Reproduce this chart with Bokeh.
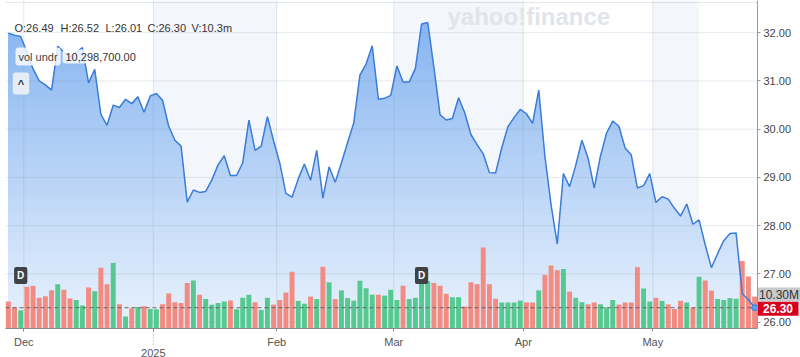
import numpy as np
from bokeh.plotting import figure
from bokeh.models import Range1d, FixedTicker, NumeralTickFormatter, Label
from bokeh.embed import file_html
from bokeh.resources import INLINE

# ---------------- data ----------------
close = [31.99, 31.95, 31.92, 31.60, 31.25, 31.00, 30.92, 30.81, 31.72, 31.60,
         31.50, 31.60, 31.69, 30.96, 31.24, 30.31, 30.08, 30.50, 30.45, 30.62,
         30.53, 30.67, 30.35, 30.69, 30.74, 30.60, 30.06, 29.77, 29.65, 28.49,
         28.74, 28.69, 28.71, 28.95, 29.26, 29.45, 29.04, 29.04, 29.30, 30.19,
         29.56, 29.65, 30.26, 29.76, 29.30, 28.67, 28.59, 28.97, 29.28, 28.94,
         29.56, 28.57, 29.22, 28.90, 29.30, 29.72, 30.13, 31.12, 31.35, 31.73,
         30.62, 30.64, 30.70, 31.31, 30.98, 30.98, 31.26, 32.18, 32.21, 31.28,
         30.30, 30.19, 30.22, 30.65, 30.34, 29.89, 29.68, 29.49, 29.10, 29.09,
         29.61, 30.05, 30.24, 30.41, 30.32, 30.12, 30.81, 29.44, 28.43, 27.62,
         29.08, 28.81, 29.25, 29.77, 29.40, 28.78, 29.44, 29.92, 30.17, 30.06,
         29.61, 29.47, 28.78, 28.83, 29.08, 28.48, 28.60, 28.55, 28.36, 28.20,
         28.45, 28.03, 28.12, 27.60, 27.13, 27.42, 27.69, 27.84, 27.85, 26.59,
         26.47, 26.30]

volume_m = [8.7, 6.8, 5.9, 13.5, 13.8, 9.9, 10.4, 12.3, 14.3, 12.5,
            9.7, 9.2, 7.4, 13.2, 12.0, 19.6, 14.3, 21.1, 7.8, 3.9,
            6.5, 6.9, 7.2, 6.3, 6.2, 7.8, 11.3, 8.5, 8.2, 14.7,
            15.5, 10.9, 9.5, 7.7, 8.2, 8.7, 9.0, 6.2, 9.9, 10.9,
            8.5, 6.0, 9.9, 7.7, 9.2, 11.6, 18.3, 8.9, 8.0, 10.3,
            9.5, 19.9, 14.9, 9.5, 12.3, 9.8, 9.0, 15.4, 13.0, 10.9,
            10.9, 10.6, 12.5, 9.2, 13.8, 9.5, 9.9, 15.3, 15.3, 14.7,
            13.8, 11.2, 10.1, 10.1, 7.1, 14.9, 14.3, 26.1, 14.3, 9.6,
            8.4, 8.4, 8.4, 9.0, 8.4, 8.4, 12.3, 17.3, 20.3, 18.8,
            19.2, 11.9, 9.9, 8.5, 7.8, 8.4, 7.8, 6.8, 9.2, 7.7,
            8.4, 8.4, 19.8, 12.9, 8.7, 9.9, 8.9, 7.8, 6.3, 8.9,
            8.4, 6.7, 16.7, 15.5, 12.2, 9.5, 9.2, 9.8, 9.6, 21.8,
            16.8, 10.3]

# g = up day, r = down day
volume_dir = ("rrgrrrrrgr" "rggrgrrgrg" "rgrggrrrrr" "grggggrggg"
              "rggrrrrggr" "grgrgggggg" "rgggrggggr" "rrggrrrrrr"
              "ggggrrgrrr" "grggrrgggr" "rrrggrgrrr" "grgrrggggrrr")

month_labels = ["Dec", "", "Feb", "Mar", "Apr", "May"]
year_label = "2025"
month_first_idx = [3, 24, 44, 63, 84, 105]
price_ticks = [26, 27, 28, 29, 30, 31, 32]
dividend_idx = [2, 67]
last_close = 26.30
last_volume_text = "10.30M"
ohlc_items = ["O:26.49", "H:26.52", "L:26.01", "C:26.30", "V:10.3m"]
vol_name = "vol undr"
vol_value = "10,298,700.00"

assert len(close) == len(volume_m) == len(volume_dir)

n = len(close)
idx = list(range(n))
FONT = "Liberation Sans"


# canvas pixel -> data helpers (layout only)
def X(cx):
    return (cx - 7.88) / 6.167


def Y(cy):
    return 32.0 - (cy - 32.2) / 48.25


def V(cy):
    return (328.0 - cy) / 3.1


PXY = 1 / 48.25   # one pixel in price units
PXV = 1 / 3.1     # one pixel in volume units

# plot-area limits in data units
ax_l, ax_r = X(5), X(757)
ay_b, ay_t = Y(328), Y(0)

p = figure(width=800, height=357, x_range=Range1d(X(0), X(800)), y_range=Range1d(Y(357), Y(0)),
           output_backend="svg", toolbar_location=None, y_axis_location="right",
           min_border_left=0, min_border_right=0, min_border_top=0, min_border_bottom=0,
           background_fill_color="white", border_fill_color="white", outline_line_color=None)
p.extra_y_ranges = {"vol": Range1d(V(357), V(0))}
p.grid.visible = False

bounds = [i - 0.5 for i in month_first_idx]

# alternating month shading
p.quad(left=[bounds[1], bounds[3], bounds[5]], right=[bounds[2], bounds[4], 112.0],
       bottom=ay_b, top=ay_t, fill_color="#f3f6fa", line_color=None)


def under_line(xs, ys, cap):
    """polygon of the area between the chart bottom and min(line, cap)"""
    px, py = [], []
    for k in range(len(xs)):
        if k > 0:
            x0, y0, x1, y1 = xs[k - 1], ys[k - 1], xs[k], ys[k]
            if (y0 - cap) * (y1 - cap) < 0:
                t = (cap - y0) / (y1 - y0)
                px.append(x0 + t * (x1 - x0))
                py.append(cap)
        px.append(xs[k])
        py.append(min(ys[k], cap))
    px += [xs[-1], xs[0]]
    py += [ay_b, ay_b]
    return px, py


# vertical gradient fill under the price line
top_rgb = np.array([134, 180, 240])
bot_rgb = np.array([233, 242, 253])
caps = np.linspace(ay_b, 32.5, 60)
for k in range(len(caps) - 1, 0, -1):
    mid = 0.5 * (caps[k] + caps[k - 1])
    t = min(max((mid - ay_b) / (32.3 - ay_b), 0.0), 1.0)
    rgb = (bot_rgb + t * (top_rgb - bot_rgb)).round().astype(int)
    col = "#%02x%02x%02x" % tuple(rgb)
    px, py = under_line(idx, close, caps[k])
    p.patch(px, py, fill_color=col, line_color=None)

# grid lines
p.segment(x0=ax_l, x1=ax_r, y0=price_ticks, y1=price_ticks, line_color="#8d97a5",
          line_alpha=0.22, line_width=1)
p.segment(x0=ax_l, x1=ax_r, y0=Y(2), y1=Y(2), line_color="#8d97a5",
          line_alpha=0.22, line_width=1)
p.segment(x0=bounds, x1=bounds, y0=ay_b, y1=ay_t, line_color="#8d97a5",
          line_alpha=0.22, line_width=1)

# volume bars
bar_colors = ["#55c98f" if d == "g" else "#f28b82" for d in volume_dir]
p.vbar(x=idx, top=volume_m, bottom=0, width=0.8, y_range_name="vol",
       fill_color=bar_colors, line_color=None)

# last price dashed line
p.segment(x0=ax_l, x1=ax_r, y0=last_close, y1=last_close, line_color="#666666",
          line_dash="4 3", line_width=1)

# price line
p.line(idx, close, line_color="#3b7dd8", line_width=1.5)
p.scatter([idx[-1]], [close[-1]], size=6, fill_color="#5b9ef0", line_color="#3b7dd8",
          line_width=1)

# axes (fixed at the plot-area edges)
ya = p.yaxis[0]
ya.fixed_location = ax_r
ya.bounds = (ay_b, ay_t)
ya.ticker = FixedTicker(ticks=price_ticks)
ya.formatter = NumeralTickFormatter(format="0.00")
ya.axis_line_color = "#9a9a9a"
ya.major_tick_line_color = "#9a9a9a"
ya.major_tick_in = 0
ya.major_tick_out = 3
ya.minor_tick_line_color = None
ya.major_label_standoff = 3
ya.major_label_text_font = FONT
ya.major_label_text_font_size = "11px"
ya.major_label_text_color = "#444444"

xa = p.xaxis[0]
xa.fixed_location = ay_b
xa.bounds = (ax_l, ax_r)
xa.ticker = FixedTicker(ticks=bounds)
xa.major_label_overrides = {b: lab for b, lab in zip(bounds, month_labels)}
xa.axis_line_color = "#8a8a8a"
xa.major_tick_line_color = "#8a8a8a"
xa.major_tick_in = 0
xa.major_tick_out = 3
xa.minor_tick_line_color = None
xa.major_label_standoff = 4
xa.major_label_text_font = FONT
xa.major_label_text_font_size = "11px"
xa.major_label_text_color = "#555555"

# year marker under the January boundary
p.segment(x0=bounds[1], x1=bounds[1], y0=ay_b, y1=Y(346), line_color="#9a9a9a",
          line_dash="1 2", line_width=1)
p.add_layout(Label(x=bounds[1], y=Y(352), text=year_label, text_align="center",
                   text_baseline="middle", text_font=FONT, text_font_size="11px",
                   text_color="#555555"))

# right side value tags (box + text, anchored at the last values)
vol_tag_y = volume_m[-1] + 2 * PXV
p.quad(left=ax_r, right=X(800), bottom=vol_tag_y - 7 * PXV, top=vol_tag_y + 7 * PXV,
       y_range_name="vol", fill_color="#c8cacd", line_color=None)
p.add_layout(Label(x=X(778.5), y=vol_tag_y, y_range_name="vol",
                   text=last_volume_text, text_align="center", text_baseline="middle",
                   text_font=FONT, text_font_size="12px", text_color="#333333"))
close_tag_y = last_close - 1 * PXY
p.quad(left=ax_r, right=X(798), bottom=close_tag_y - 7 * PXY, top=close_tag_y + 7 * PXY,
       fill_color="#d8001f", line_color=None)
p.add_layout(Label(x=X(777.5), y=close_tag_y, text="%.2f" % last_close,
                   text_align="center", text_baseline="middle", text_font=FONT,
                   text_font_size="12px", text_font_style="bold", text_color="white"))

# OHLC header
ohlc_x = [14, 60, 105, 147, 191]
for cx, txt in zip(ohlc_x, ohlc_items):
    p.add_layout(Label(x=X(cx), y=Y(27), text=txt, text_align="left",
                       text_baseline="middle", text_font=FONT, text_font_size="11px",
                       text_color="#333333"))

# volume legend chip
p.add_layout(Label(x=X(15), y=Y(56), text=vol_name, text_align="left",
                   text_baseline="middle", text_font=FONT, text_font_size="11px",
                   text_color="#444444", background_fill_color="white",
                   background_fill_alpha=0.8, padding=3, border_radius=3))
p.add_layout(Label(x=X(62), y=Y(56), text=vol_value, text_align="left",
                   text_baseline="middle", text_font=FONT, text_font_size="11px",
                   text_color="#333333", background_fill_color="white",
                   background_fill_alpha=0.8, padding=3, border_radius=3))
p.add_layout(Label(x=X(20.5), y=Y(83), text="^", text_align="center",
                   text_baseline="middle", text_font=FONT, text_font_size="11px",
                   text_font_style="bold", text_color="#333333",
                   background_fill_color="#eef2f7", background_fill_alpha=0.9,
                   padding=5, border_radius=3))

# dividend markers
for di in dividend_idx:
    p.add_layout(Label(x=di, y=Y(275), text="D", text_align="center",
                       text_baseline="middle", text_font=FONT, text_font_size="10px",
                       text_font_style="bold", text_color="white",
                       background_fill_color="#3e4246", padding=3, border_radius=2))

# watermark
p.add_layout(Label(x=X(447), y=Y(16), text="yahoo!finance", text_align="left",
                   text_baseline="middle", text_font=FONT, text_font_size="24px",
                   text_font_style="bold", text_color="#e1e5ea"))

open("out.html", "w").write(file_html(p, INLINE))
